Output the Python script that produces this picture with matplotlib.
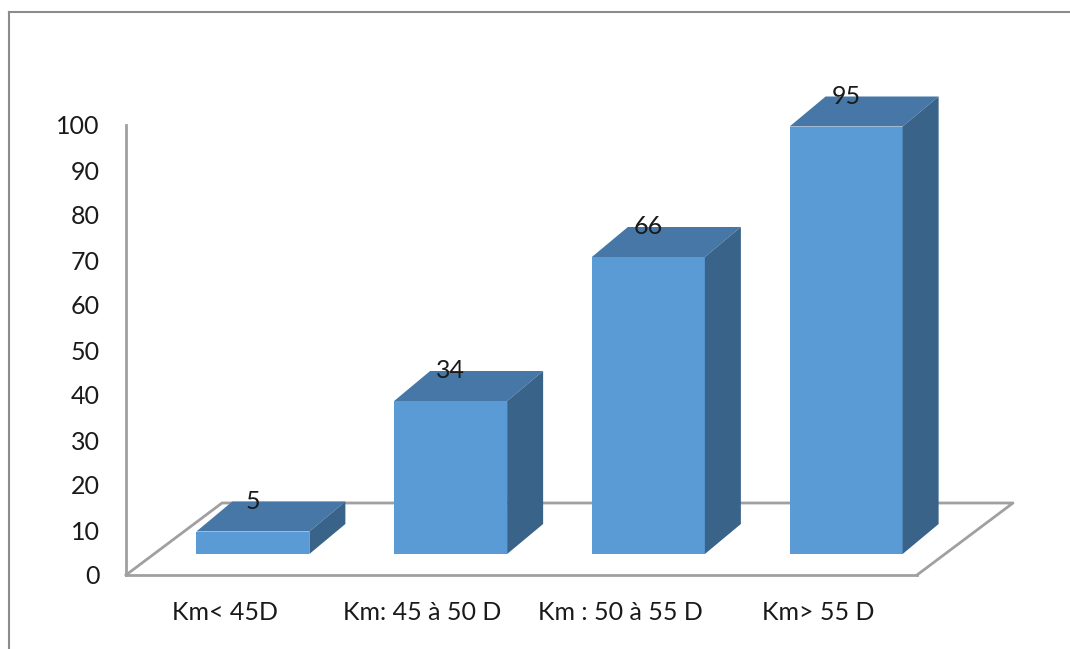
import matplotlib.pyplot as plt
from matplotlib.patches import Polygon
from matplotlib.lines import Line2D

categories = ['Km< 45D', 'Km: 45 à 50 D', 'Km : 50 à 55 D', 'Km> 55 D']
values = [5, 34, 66, 95]

front_col = '#5B9BD5'
top_col = '#4677A7'
side_col = '#3A6389'
grid_col = '#A0A0A0'

plt.rcParams['font.family'] = ['Lato', 'DejaVu Sans']

W, H = 1070, 649
fig = plt.figure(figsize=(W / 100, H / 100), dpi=100)
# plot area: front floor edge spans 126..917 px, value 0 at y=575, 100 at y=125
ax = fig.add_axes([126 / W, (H - 575) / H, (917 - 126) / W, 450 / H])
ax.set_xlim(-0.5, 3.5)
ax.set_ylim(0, 100)

# oblique depth: floor is 96 px right / 72 px up
px_x = 4 / 791.0      # category units per pixel
px_y = 100 / 450.0    # value units per pixel
floor_dx, floor_dy = 96 * px_x, 72 * px_y
ox, oy = 28 * px_x, 21 * px_y          # bar front plane offset
bdx, bdy = 36 * px_x, 30 * px_y        # bar depth
bw = 113 * px_x                        # bar width

# floor outline (front edge is the bottom spine)
xl, xr = -0.5, 3.5
ax.add_line(Line2D([xl, xl + floor_dx, xr + floor_dx, xr], [0, floor_dy, floor_dy, 0],
                   color=grid_col, lw=2, clip_on=False, zorder=1))

for i, v in enumerate(values):
    x0 = i + ox - bw / 2
    x1 = x0 + bw
    y0 = oy
    y1 = oy + v
    ax.add_patch(Polygon([(x0, y0), (x1, y0), (x1, y1), (x0, y1)],
                         closed=True, fc=front_col, ec='none', clip_on=False, zorder=3))
    ax.add_patch(Polygon([(x0, y1), (x1, y1), (x1 + bdx, y1 + bdy), (x0 + bdx, y1 + bdy)],
                         closed=True, fc=top_col, ec='none', clip_on=False, zorder=3))
    ax.add_patch(Polygon([(x1, y0), (x1 + bdx, y0 + bdy), (x1 + bdx, y1 + bdy), (x1, y1)],
                         closed=True, fc=side_col, ec='none', clip_on=False, zorder=3))
    ax.text(i + ox, y1 + bdy, str(v), ha='center', va='center',
            fontsize=18, color='#1a1a1a', zorder=4, clip_on=False)

for s in ['top', 'right']:
    ax.spines[s].set_visible(False)
for s in ['left', 'bottom']:
    ax.spines[s].set_color(grid_col)
    ax.spines[s].set_linewidth(2)
    ax.spines[s].set_zorder(2)

ax.set_yticks(range(0, 101, 10))
ax.set_xticks(range(len(categories)))
ax.set_xticklabels(categories)
ax.tick_params(axis='y', length=0, pad=19, labelsize=18, labelcolor='#1a1a1a')
ax.tick_params(axis='x', length=0, pad=19, labelsize=18, labelcolor='#1a1a1a')
ax.patch.set_visible(False)

# chart border
fig.add_artist(Line2D([9 / W, 9 / W], [0, 1 - 12 / H], color='#8C8C8C', lw=1.5))
fig.add_artist(Line2D([9 / W, 1], [1 - 12 / H, 1 - 12 / H], color='#8C8C8C', lw=1.5))

fig.savefig('out.png', dpi=100)
